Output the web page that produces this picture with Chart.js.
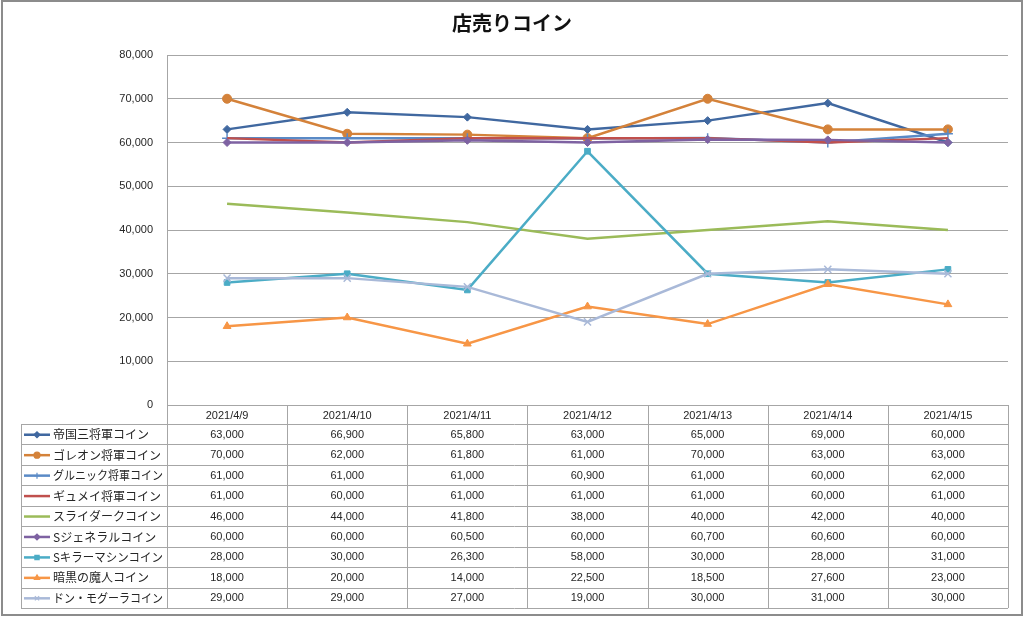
<!DOCTYPE html>
<html>
<head>
<meta charset="utf-8">
<script src="https://cdn.jsdelivr.net/npm/chart.js@4.4.1/dist/chart.umd.min.js"></script>
<style>
html,body{margin:0;padding:0;background:#fff;}
#wrap{width:1024px;height:618px;}
</style>
</head>
<body>
<div id="wrap"><canvas id="c" width="1024" height="618"></canvas></div>
<script>
const title = "店売りコイン";
const categories = ["2021/4/9","2021/4/10","2021/4/11","2021/4/12","2021/4/13","2021/4/14","2021/4/15"];
const seriesNames = ["帝国三将軍コイン","ゴレオン将軍コイン","グルニック将軍コイン","ギュメイ将軍コイン","スライダークコイン","Sジェネラルコイン","Sキラーマシンコイン","暗黒の魔人コイン","ドン・モグーラコイン"];
const teikoku  = [63000, 66900, 65800, 63000, 65000, 69000, 60000];
const goreon   = [70000, 62000, 61800, 61000, 70000, 63000, 63000];
const gurunikku= [61000, 61000, 61000, 60900, 61000, 60000, 62000];
const gyumei   = [61000, 60000, 61000, 61000, 61000, 60000, 61000];
const slidark  = [46000, 44000, 41800, 38000, 40000, 42000, 40000];
const sgeneral = [60000, 60000, 60500, 60000, 60700, 60600, 60000];
const skiller  = [28000, 30000, 26300, 58000, 30000, 28000, 31000];
const ankoku   = [18000, 20000, 14000, 22500, 18500, 27600, 23000];
const donmog   = [29000, 29000, 27000, 19000, 30000, 31000, 30000];
const yTicks = [0,10000,20000,30000,40000,50000,60000,70000,80000];

const seriesValues = [teikoku, goreon, gurunikku, gyumei, slidark, sgeneral, skiller, ankoku, donmog];
const colors = ["#4068A0","#D4823A","#5A8AC6","#C0504D","#9BBB59","#7E62A2","#4BACC6","#F79646","#A9B9D8"];
const markers = ["rectRot","circle","cross","none","none","rectRot","rect","triangle","crossRot"];
const radii   = [4,4.5,5,0,0,4,4,4.5,5];

const fmt = v => v.toLocaleString("en-US");

const datasets = seriesNames.map((n,i)=>({
  label:n,
  data:seriesValues[i],
  borderColor:colors[i],
  backgroundColor:colors[i],
  borderWidth:2.5,
  pointStyle: markers[i]==="none" ? false : markers[i],
  pointRadius: radii[i],
  pointBorderColor: colors[i],
  pointBackgroundColor: colors[i],
  pointBorderWidth: (markers[i]==="cross"||markers[i]==="crossRot") ? 1.5 : 1,
  tension:0,
  order: 9 - i
}));

const TABLE_FONT = "11px 'Liberation Sans', 'DejaVu Sans', sans-serif";
const LEGEND_FONT = "12px 'Noto Sans CJK JP', sans-serif";
const GRID = "#a6a6a6";

const framePlugin = {
  id:"frame",
  beforeDraw(chart){
    const ctx = chart.ctx;
    ctx.save();
    ctx.fillStyle="#fff";
    ctx.fillRect(0,0,chart.width,chart.height);
    ctx.restore();
  },
  afterDraw(chart){
    const ctx = chart.ctx;
    const x = chart.scales.x;
    const area = chart.chartArea;
    const colW = x.getPixelForValue(1) - x.getPixelForValue(0);
    const right = area.right;
    const legendLeft = 21;
    const headerTop = area.bottom;
    const headerH = 19;
    const rowH = 20.45;
    const tableBottom = headerTop + headerH + rowH*seriesNames.length;
    ctx.save();
    ctx.strokeStyle = GRID;
    ctx.lineWidth = 1;
    for (let i=0;i<=categories.length;i++){
      const px = Math.round(x.getPixelForValue(0) - colW/2 + i*colW) + 0.5;
      ctx.beginPath();
      ctx.moveTo(px, headerTop);
      ctx.lineTo(px, tableBottom);
      ctx.stroke();
    }
    ctx.beginPath();
    ctx.moveTo(legendLeft+0.5, headerTop+headerH);
    ctx.lineTo(legendLeft+0.5, tableBottom);
    ctx.stroke();
    for (let r=0;r<=seriesNames.length;r++){
      const py = Math.round(headerTop+headerH + r*rowH)+0.5;
      ctx.beginPath();
      ctx.moveTo(legendLeft, py);
      ctx.lineTo(right, py);
      ctx.stroke();
    }
    ctx.fillStyle = "#262626";
    ctx.font = TABLE_FONT;
    ctx.textAlign = "center";
    ctx.textBaseline = "middle";
    categories.forEach((c,i)=>{
      ctx.fillText(c, x.getPixelForValue(i), headerTop + headerH/2 + 1);
    });
    seriesNames.forEach((n,r)=>{
      const cy = headerTop + headerH + r*rowH + rowH/2 + 0.5;
      ctx.fillStyle = "#262626";
      ctx.font = TABLE_FONT;
      ctx.textAlign = "center";
      seriesValues[r].forEach((v,i)=>{
        ctx.fillText(fmt(v), x.getPixelForValue(i), cy);
      });
      ctx.strokeStyle = colors[r];
      ctx.lineWidth = 2.5;
      ctx.beginPath();
      ctx.moveTo(24, cy);
      ctx.lineTo(50, cy);
      ctx.stroke();
      if (markers[r] !== "none"){
        ctx.fillStyle = colors[r];
        ctx.strokeStyle = colors[r];
        ctx.lineWidth = 1.2;
        Chart.helpers.drawPoint(ctx, {pointStyle:markers[r], radius:3, rotation:0, borderWidth:1}, 37, cy);
      }
      ctx.fillStyle = "#262626";
      ctx.font = LEGEND_FONT;
      ctx.textAlign = "left";
      ctx.fillText(n, 53, cy, 110);
    });
    ctx.fillStyle = "#111";
    ctx.font = "bold 20px 'Noto Sans CJK JP', sans-serif";
    ctx.textAlign = "center";
    ctx.fillText(title, 512, 23.5);
    ctx.strokeStyle = "#8c8c8c";
    ctx.lineWidth = 2;
    ctx.strokeRect(2, 1, 1020, 614);
    ctx.restore();
  }
};

new Chart(document.getElementById("c"), {
  type:"line",
  data:{labels:categories, datasets},
  options:{
    responsive:false,
    animation:false,
    devicePixelRatio:1,
    layout:{padding:{top:55,right:16,left:0,bottom:0}},
    plugins:{legend:{display:false},title:{display:false},tooltip:{enabled:false}},
    scales:{
      x:{
        offset:true,
        grid:{display:false, drawTicks:false},
        border:{display:true,color:GRID,width:1},
        ticks:{display:false},
        afterFit(s){ s.height = 213; }
      },
      y:{
        min:0,max:80000,
        afterBuildTicks(s){ s.ticks = yTicks.map(v=>({value:v})); },
        grid:{color:GRID, lineWidth:1, drawTicks:false},
        border:{display:true,color:GRID,width:1},
        ticks:{padding:14,color:"#262626",font:{family:"'Liberation Sans', sans-serif",size:11},callback:v=>fmt(v)},
        afterFit(s){ s.width = 167; }
      }
    }
  },
  plugins:[framePlugin]
});
</script>
</body>
</html>
